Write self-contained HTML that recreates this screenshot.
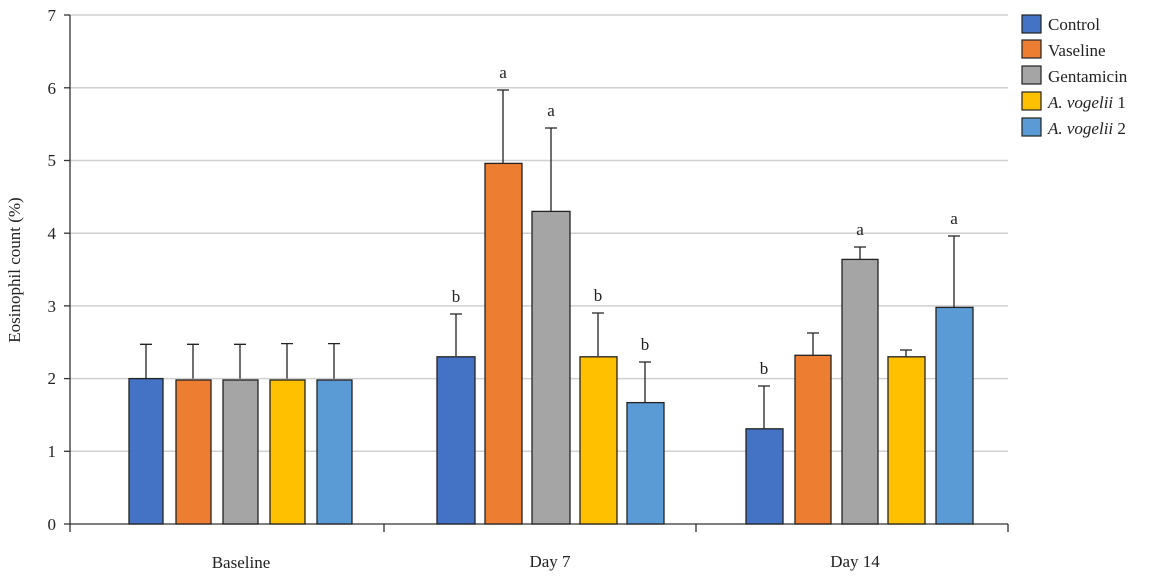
<!DOCTYPE html>
<html><head><style>body{margin:0;background:#fff}svg{display:block}text{font-family:"Liberation Serif",serif;fill:#222}</style></head>
<body>
<svg width="1153" height="576" viewBox="0 0 1153 576" xmlns="http://www.w3.org/2000/svg">
<g stroke="#d0d0d0" stroke-width="1.5">
<line x1="70" x2="1008" y1="451.3" y2="451.3"/>
<line x1="70" x2="1008" y1="378.6" y2="378.6"/>
<line x1="70" x2="1008" y1="305.9" y2="305.9"/>
<line x1="70" x2="1008" y1="233.2" y2="233.2"/>
<line x1="70" x2="1008" y1="160.5" y2="160.5"/>
<line x1="70" x2="1008" y1="87.8" y2="87.8"/>
<line x1="70" x2="1008" y1="15" y2="15"/>
</g>
<g stroke="#333" stroke-width="1.3">
<line x1="70" y1="15" x2="70" y2="524"/>
<line x1="70" y1="524" x2="1008" y2="524"/>
<line x1="64" x2="70" y1="524" y2="524"/><line x1="64" x2="70" y1="451.3" y2="451.3"/><line x1="64" x2="70" y1="378.6" y2="378.6"/><line x1="64" x2="70" y1="305.9" y2="305.9"/><line x1="64" x2="70" y1="233.2" y2="233.2"/><line x1="64" x2="70" y1="160.5" y2="160.5"/><line x1="64" x2="70" y1="87.8" y2="87.8"/><line x1="64" x2="70" y1="15" y2="15"/>
<line x1="70" x2="70" y1="524" y2="532"/><line x1="384" x2="384" y1="524" y2="532"/><line x1="696" x2="696" y1="524" y2="532"/><line x1="1008" x2="1008" y1="524" y2="532"/>
</g>
<g font-size="17" text-anchor="end">
<text x="56" y="530">0</text><text x="56" y="457">1</text><text x="56" y="384">2</text><text x="56" y="312">3</text><text x="56" y="239">4</text><text x="56" y="166">5</text><text x="56" y="94">6</text><text x="56" y="21">7</text>
</g>
<text transform="translate(20,270) rotate(-90)" font-size="17" text-anchor="middle">Eosinophil count (%)</text>
<g font-size="17" text-anchor="middle">
<text x="241" y="568">Baseline</text><text x="550" y="567">Day 7</text><text x="855" y="567">Day 14</text>
</g>
<g stroke="#222" stroke-width="1.3">
<!-- error bars -->
<path d="M146 378.6V344.3M140 344.3H152M193 378.6V344.3M187 344.3H199M240 378.6V344.3M234 344.3H246M287 378.6V343.6M281 343.6H293M334 378.6V343.6M328 343.6H340"/>
<path d="M456 356V314M450 314H462M503 163V90M497 90H509M551 212V128M545 128H557M598 356V313M592 313H604M645 403V362M639 362H651"/>
<path d="M764 429V386M758 386H770M813 356V333M807 333H819M860 259V247M854 247H866M906 357V350M900 350H912M954 307V236M948 236H960"/>
<rect x="129" y="378.6" width="34" height="145.4" fill="#4472C4"/>
<rect x="176" y="380" width="35" height="144" fill="#ED7D31"/>
<rect x="223" y="380" width="35" height="144" fill="#A5A5A5"/>
<rect x="270" y="380" width="35" height="144" fill="#FFC000"/>
<rect x="317" y="380" width="35" height="144" fill="#5B9BD5"/>
<rect x="437" y="356.8" width="38" height="167.2" fill="#4472C4"/>
<rect x="485" y="163.4" width="37" height="360.6" fill="#ED7D31"/>
<rect x="532" y="211.4" width="38" height="312.6" fill="#A5A5A5"/>
<rect x="580" y="356.8" width="37" height="167.2" fill="#FFC000"/>
<rect x="627" y="402.6" width="37" height="121.4" fill="#5B9BD5"/>
<rect x="746" y="428.8" width="37" height="95.2" fill="#4472C4"/>
<rect x="795" y="355.3" width="36" height="168.7" fill="#ED7D31"/>
<rect x="842" y="259.4" width="36" height="264.6" fill="#A5A5A5"/>
<rect x="888" y="356.8" width="37" height="167.2" fill="#FFC000"/>
<rect x="936" y="307.4" width="37" height="216.6" fill="#5B9BD5"/>
</g>
<g font-size="17" text-anchor="middle">
<text x="456" y="302">b</text><text x="503" y="78">a</text><text x="551" y="116">a</text><text x="598" y="301">b</text><text x="645" y="350">b</text>
<text x="764" y="374">b</text><text x="860" y="235">a</text><text x="954" y="224">a</text>
</g>
<g stroke="#222" stroke-width="1.2">
<rect x="1022" y="15" width="19" height="18" fill="#4472C4"/>
<rect x="1022" y="40" width="19" height="18" fill="#ED7D31"/>
<rect x="1022" y="66" width="19" height="18" fill="#A5A5A5"/>
<rect x="1022" y="92" width="19" height="18" fill="#FFC000"/>
<rect x="1022" y="118" width="19" height="18" fill="#5B9BD5"/>
</g>
<g font-size="17">
<text x="1048" y="30">Control</text>
<text x="1048" y="56">Vaseline</text>
<text x="1048" y="82">Gentamicin</text>
<text x="1048" y="108"><tspan font-style="italic">A. vogelii</tspan> 1</text>
<text x="1048" y="134"><tspan font-style="italic">A. vogelii</tspan> 2</text>
</g>
</svg>
</body></html>
